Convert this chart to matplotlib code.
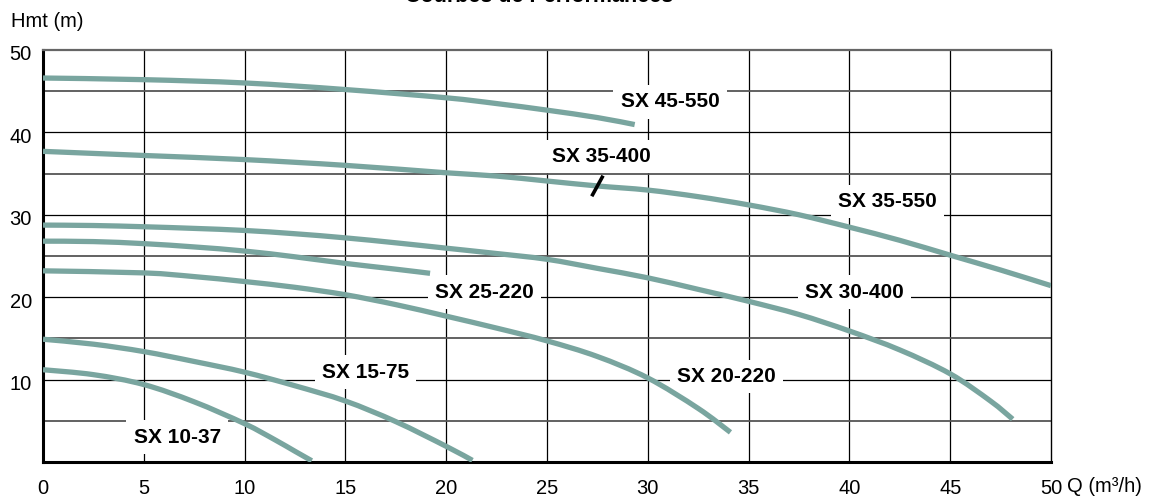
import matplotlib
matplotlib.use("Agg")
import matplotlib.pyplot as plt
import matplotlib.transforms as mtransforms
import numpy as np
from matplotlib.patches import PathPatch
from matplotlib.path import Path

plt.rcParams["font.family"] = ["Liberation Sans", "DejaVu Sans"]

# pump curves: flow Q (m3/h) and head Hmt (m)
q_45_550 = [0, 5, 10, 15, 20, 22.5, 25, 27.5, 29.35]
h_45_550 = [46.6, 46.4, 46.0, 45.2, 44.2, 43.5, 42.7, 41.8, 40.95]

q_35_550 = [0, 5, 10, 15, 20, 22.5, 25, 27.5, 30, 32.5, 35, 37.5, 40, 42.5, 45, 47.5, 50]
h_35_550 = [37.7, 37.2, 36.7, 36.0, 35.1, 34.7, 34.1, 33.5, 33.0, 32.2, 31.2, 30.0,
            28.5, 26.9, 25.1, 23.3, 21.4]
q_35_400_end = 27.5

q_30_400 = [0, 2.5, 5, 7.5, 10, 12.5, 15, 17.5, 20, 22.5, 25, 27.5, 30, 32.5, 35,
            37.5, 40, 42.5, 45, 47, 48.1]
h_30_400 = [28.75, 28.7, 28.55, 28.35, 28.1, 27.7, 27.2, 26.6, 25.95, 25.3, 24.6, 23.5,
            22.35, 20.95, 19.5, 17.9, 15.9, 13.6, 10.7, 7.4, 5.2]

q_25_220 = [0, 2.5, 5, 7.5, 10, 12.5, 15, 17.5, 19.2]
h_25_220 = [26.8, 26.75, 26.5, 26.1, 25.6, 24.9, 24.1, 23.4, 22.9]

q_20_220 = [0, 5, 7.5, 10, 12.5, 15, 17.5, 20, 22.5, 25, 27.5, 30, 32.5, 34.1]
h_20_220 = [23.2, 22.95, 22.5, 21.9, 21.2, 20.3, 19.1, 17.7, 16.25, 14.7, 12.8, 10.2,
            6.5, 3.6]

q_15_75 = [0, 2.5, 5, 7.5, 10, 12.5, 15, 17.5, 20, 21.3]
h_15_75 = [14.9, 14.3, 13.4, 12.2, 10.9, 9.25, 7.4, 4.9, 1.9, 0.2]

q_10_37 = [0, 2.5, 5, 7.5, 10, 11.5, 12.5, 13.33]
h_10_37 = [11.2, 10.6, 9.4, 7.3, 4.65, 2.7, 1.3, 0.15]

label_names = ["SX 45-550", "SX 35-400", "SX 35-550", "SX 30-400",
               "SX 25-220", "SX 20-220", "SX 15-75", "SX 10-37"]
label_q = [31.1, 27.7, 41.9, 40.25, 21.9, 33.9, 16.0, 6.66]
label_h = [43.7, 37.1, 31.6, 20.6, 20.6, 10.4, 10.9, 3.0]

x_ticks = list(range(0, 51, 5))
y_ticks = [10, 20, 30, 40, 50]

curve_color = "#79a59f"


def smooth_path(q, h):
    # Catmull-Rom through the read points, as cubic Bezier segments
    p = np.column_stack([q, h]).astype(float)
    ext = np.vstack([p[0], p, p[-1]])
    verts = [p[0]]
    codes = [Path.MOVETO]
    for i in range(1, len(ext) - 2):
        p0, p1, p2, p3 = ext[i - 1], ext[i], ext[i + 1], ext[i + 2]
        verts += [p1 + (p2 - p0) / 6, p2 - (p3 - p1) / 6, p2]
        codes += [Path.CURVE4] * 3
    return Path(verts, codes)


W, H = 1151, 496
fig = plt.figure(figsize=(W / 100, H / 100), dpi=100, facecolor="white")
ax = fig.add_axes([43 / W, 1 - 462 / H, 1008 / W, 412 / H])

ax.set_xlim(0, 50)
ax.set_ylim(0, 50)

# grid
for x in range(5, 50, 5):
    ax.axvline(x, color="black", lw=0.9, zorder=1)
for y in range(5, 50, 5):
    if y % 10 == 0:
        ax.axhline(y, color="black", lw=0.9, zorder=1)
    else:
        ax.axhline(y, color="#555555", lw=1.3, zorder=1)

curves = [(q_45_550, h_45_550), (q_35_550, h_35_550), (q_30_400, h_30_400),
          (q_25_220, h_25_220), (q_20_220, h_20_220), (q_15_75, h_15_75),
          (q_10_37, h_10_37)]
for q, h in curves:
    ax.add_patch(PathPatch(smooth_path(q, h), fill=False, ec=curve_color, lw=3.8,
                           capstyle="butt", joinstyle="round", zorder=3))

# end mark of SX 35-400 on the shared curve
h_mark = np.interp(q_35_400_end, q_35_550, h_35_550)
ax.plot([q_35_400_end - 0.28, q_35_400_end + 0.28], [h_mark - 1.25, h_mark + 1.25],
        color="black", lw=2.6, solid_capstyle="butt", zorder=4)

for name, x, y in zip(label_names, label_q, label_h):
    ax.text(x, y, name, ha="center", va="center", fontsize=15, fontweight="bold",
            zorder=2, bbox=dict(boxstyle="square,pad=0.35", fc="white", ec="none"))

for side in ["left", "bottom"]:
    ax.spines[side].set_linewidth(2.2)
    ax.spines[side].set_color("black")
ax.spines["top"].set_linewidth(1.6)
ax.spines["top"].set_color("#666666")
ax.spines["right"].set_color("black")
ax.spines["right"].set_linewidth(1.0)

ax.set_xticks(x_ticks)
ax.set_yticks(y_ticks)
ax.tick_params(axis="both", length=0, labelsize=14.5)
ax.tick_params(axis="x", pad=12)
ax.tick_params(axis="y", pad=8)
shift = mtransforms.ScaledTranslation(0, -3 / 100, fig.dpi_scale_trans)
for lab in ax.get_yticklabels():
    lab.set_transform(lab.get_transform() + shift)

fig.text(11 / W, 1 - 27 / H, "Hmt (m)", fontsize=14.5, va="baseline", ha="left")
fig.text(1067 / W, 1 - 492 / H, "Q (m\u00b3/h)", fontsize=14.5, va="baseline", ha="left")
fig.text(539 / W, 1 - 1.5 / H, "Courbes de Performances", fontsize=15.5,
         fontweight="bold", va="baseline", ha="center")

fig.savefig("out.png", dpi=100, facecolor="white")
